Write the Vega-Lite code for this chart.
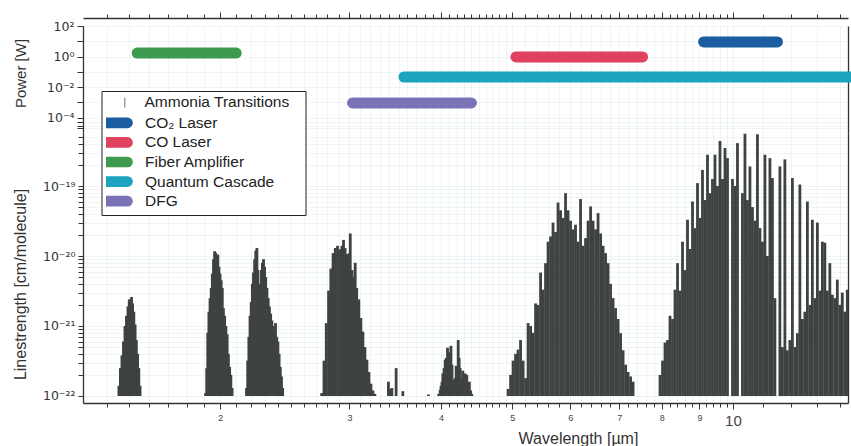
{
  "$schema": "https://vega.github.io/schema/vega-lite/v6.json",
  "padding": {"left": 12, "top": 11, "right": 0, "bottom": 0},
  "bounds": "flush",
  "spacing": 0,
  "config": {
    "view": {"stroke": null},
    "font": "Liberation Sans",
    "axis": {"domainColor": "#333", "domainWidth": 1.3, "tickColor": "#333", "tickWidth": 1, "labelColor": "#333", "titleColor": "#333", "titleFontWeight": "normal", "gridColor": "#b9cddd", "gridOpacity": 0.33, "gridWidth": 0.7}
  },
  "datasets": {
    "lasers": [
      {"series": "CO₂ Laser", "w1": 9.12, "w2": 11.5, "p": 9},
      {"series": "CO Laser", "w1": 5.06, "w2": 7.53, "p": 0.95},
      {"series": "Fiber Amplifier", "w1": 1.541, "w2": 2.103, "p": 1.7},
      {"series": "Quantum Cascade", "w1": 3.56, "w2": 14.6, "p": 0.046},
      {"series": "DFG", "w1": 3.03, "w2": 4.4, "p": 0.00092}
    ],
    "lines": [
      {"w": 1.455, "s": 1.4e-22}, {"w": 1.462, "s": 2.5e-22}, {"w": 1.469, "s": 3.8e-22}, {"w": 1.476, "s": 6e-22}, {"w": 1.483, "s": 1e-21}, {"w": 1.490, "s": 1.4e-21}, {"w": 1.497, "s": 1.9e-21}, {"w": 1.503, "s": 2.4e-21}, {"w": 1.509, "s": 2.2e-21}, {"w": 1.514, "s": 2.6e-21}, {"w": 1.519, "s": 2.1e-21}, {"w": 1.525, "s": 1.6e-21}, {"w": 1.531, "s": 1.05e-21}, {"w": 1.537, "s": 6.3e-22}, {"w": 1.543, "s": 4e-22}, {"w": 1.549, "s": 2.5e-22}, {"w": 1.555, "s": 1.4e-22},
      {"w": 1.910, "s": 1.1e-22}, {"w": 1.917, "s": 2.5e-22}, {"w": 1.923, "s": 8e-22}, {"w": 1.930, "s": 1.6e-21}, {"w": 1.937, "s": 2.5e-21}, {"w": 1.944, "s": 3.5e-21}, {"w": 1.951, "s": 5.6e-21}, {"w": 1.958, "s": 9e-21}, {"w": 1.965, "s": 1.17e-20}, {"w": 1.971, "s": 1.12e-20}, {"w": 1.978, "s": 1e-20}, {"w": 1.985, "s": 1.05e-20}, {"w": 1.992, "s": 7e-21}, {"w": 1.999, "s": 5.6e-21}, {"w": 2.006, "s": 4.5e-21}, {"w": 2.013, "s": 3.5e-21}, {"w": 2.020, "s": 1.8e-21}, {"w": 2.028, "s": 1.4e-21}, {"w": 2.036, "s": 1e-21}, {"w": 2.044, "s": 7.6e-22}, {"w": 2.052, "s": 4e-22}, {"w": 2.060, "s": 2.6e-22}, {"w": 2.068, "s": 2e-22}, {"w": 2.076, "s": 1.3e-22},
      {"w": 2.172, "s": 1.3e-22}, {"w": 2.180, "s": 3.2e-22}, {"w": 2.188, "s": 7e-22}, {"w": 2.196, "s": 1.4e-21}, {"w": 2.204, "s": 2.2e-21}, {"w": 2.212, "s": 4e-21}, {"w": 2.220, "s": 5.8e-21}, {"w": 2.228, "s": 9e-21}, {"w": 2.236, "s": 1.2e-20}, {"w": 2.244, "s": 1.3e-20}, {"w": 2.251, "s": 6.3e-21}, {"w": 2.259, "s": 4e-21}, {"w": 2.267, "s": 4e-21}, {"w": 2.275, "s": 6.3e-21}, {"w": 2.283, "s": 8e-21}, {"w": 2.291, "s": 9e-21}, {"w": 2.299, "s": 7e-21}, {"w": 2.307, "s": 5e-21}, {"w": 2.316, "s": 3.5e-21}, {"w": 2.325, "s": 2.5e-21}, {"w": 2.334, "s": 1.9e-21}, {"w": 2.343, "s": 1.5e-21}, {"w": 2.352, "s": 1.2e-21}, {"w": 2.361, "s": 1e-21}, {"w": 2.370, "s": 8.3e-22}, {"w": 2.379, "s": 1.1e-21}, {"w": 2.388, "s": 7e-22}, {"w": 2.397, "s": 6e-22}, {"w": 2.406, "s": 4e-22}, {"w": 2.415, "s": 2.6e-22}, {"w": 2.424, "s": 1.9e-22}, {"w": 2.433, "s": 1.3e-22},
      {"w": 2.750, "s": 1.1e-22}, {"w": 2.770, "s": 3.2e-22}, {"w": 2.790, "s": 1.1e-21}, {"w": 2.810, "s": 3.2e-21}, {"w": 2.830, "s": 6.6e-21}, {"w": 2.850, "s": 1.1e-20}, {"w": 2.870, "s": 1.3e-20}, {"w": 2.890, "s": 1.4e-20}, {"w": 2.910, "s": 1.25e-20}, {"w": 2.930, "s": 1.4e-20}, {"w": 2.945, "s": 1.7e-20}, {"w": 2.960, "s": 1.3e-20}, {"w": 2.980, "s": 1.07e-20}, {"w": 3.000, "s": 1.1e-20}, {"w": 3.008, "s": 2.1e-20}, {"w": 3.025, "s": 6.3e-21}, {"w": 3.040, "s": 5e-21}, {"w": 3.055, "s": 8e-21}, {"w": 3.070, "s": 3.5e-21}, {"w": 3.090, "s": 2.4e-21}, {"w": 3.110, "s": 1.3e-21}, {"w": 3.130, "s": 8.3e-22}, {"w": 3.150, "s": 5e-22}, {"w": 3.170, "s": 3.3e-22}, {"w": 3.190, "s": 2.2e-22}, {"w": 3.210, "s": 1.5e-22}, {"w": 3.230, "s": 1.2e-22}, {"w": 3.250, "s": 1.07e-22},
      {"w": 3.391, "s": 1.6e-22}, {"w": 3.409, "s": 1.25e-22}, {"w": 3.428, "s": 1.3e-22}, {"w": 3.474, "s": 2.5e-22}, {"w": 3.548, "s": 1.17e-22}, {"w": 3.845, "s": 1.05e-22},
      {"w": 3.970, "s": 1.07e-22}, {"w": 3.989, "s": 1.23e-22}, {"w": 4.000, "s": 1.4e-22}, {"w": 4.012, "s": 1.6e-22}, {"w": 4.023, "s": 2.1e-22}, {"w": 4.038, "s": 2.5e-22}, {"w": 4.052, "s": 3.3e-22}, {"w": 4.066, "s": 3.5e-22}, {"w": 4.082, "s": 4.9e-22}, {"w": 4.095, "s": 3.2e-22}, {"w": 4.108, "s": 4.2e-22}, {"w": 4.126, "s": 5.2e-22}, {"w": 4.140, "s": 2.8e-22}, {"w": 4.152, "s": 1.7e-22}, {"w": 4.166, "s": 1.4e-22}, {"w": 4.181, "s": 1.8e-22}, {"w": 4.194, "s": 2.7e-22}, {"w": 4.208, "s": 2e-22}, {"w": 4.221, "s": 6.3e-22}, {"w": 4.234, "s": 3.5e-22}, {"w": 4.247, "s": 2.5e-22}, {"w": 4.262, "s": 1.8e-22}, {"w": 4.283, "s": 2.3e-22}, {"w": 4.300, "s": 1.4e-22}, {"w": 4.314, "s": 2.1e-22}, {"w": 4.337, "s": 2e-22}, {"w": 4.352, "s": 1.3e-22}, {"w": 4.372, "s": 1.6e-22}, {"w": 4.390, "s": 1.2e-22}, {"w": 4.405, "s": 1.07e-22},
      {"w": 4.937, "s": 1.26e-22}, {"w": 4.976, "s": 2e-22}, {"w": 5.015, "s": 3.2e-22}, {"w": 5.054, "s": 4e-22}, {"w": 5.094, "s": 4.6e-22}, {"w": 5.134, "s": 6.3e-22}, {"w": 5.175, "s": 3.2e-22}, {"w": 5.216, "s": 1.8e-22}, {"w": 5.257, "s": 1.1e-21}, {"w": 5.298, "s": 1e-21}, {"w": 5.340, "s": 8e-22}, {"w": 5.382, "s": 2.1e-21}, {"w": 5.424, "s": 2e-21}, {"w": 5.467, "s": 5.8e-21}, {"w": 5.510, "s": 3.3e-21}, {"w": 5.553, "s": 7.9e-21}, {"w": 5.597, "s": 1.6e-20}, {"w": 5.641, "s": 1.9e-20}, {"w": 5.685, "s": 3e-20}, {"w": 5.730, "s": 2.2e-20}, {"w": 5.775, "s": 5.8e-20}, {"w": 5.821, "s": 4.5e-20}, {"w": 5.867, "s": 3.5e-20}, {"w": 5.913, "s": 7.9e-20}, {"w": 5.959, "s": 4.5e-20}, {"w": 6.006, "s": 3.2e-20}, {"w": 6.054, "s": 2.4e-20}, {"w": 6.101, "s": 2.8e-20}, {"w": 6.149, "s": 1.6e-20}, {"w": 6.198, "s": 6.5e-20}, {"w": 6.247, "s": 1.4e-20}, {"w": 6.296, "s": 1.8e-20}, {"w": 6.346, "s": 3.2e-20}, {"w": 6.396, "s": 5.1e-20}, {"w": 6.446, "s": 3.2e-20}, {"w": 6.497, "s": 2.4e-20}, {"w": 6.548, "s": 4.1e-20}, {"w": 6.600, "s": 2.1e-20}, {"w": 6.652, "s": 1.4e-20}, {"w": 6.704, "s": 1.1e-20}, {"w": 6.757, "s": 7.9e-21}, {"w": 6.810, "s": 4e-21}, {"w": 6.864, "s": 2.5e-21}, {"w": 6.918, "s": 1.8e-21}, {"w": 6.972, "s": 1.26e-21}, {"w": 7.027, "s": 7.9e-22}, {"w": 7.083, "s": 4.5e-22}, {"w": 7.139, "s": 2.8e-22}, {"w": 7.195, "s": 2.2e-22}, {"w": 7.252, "s": 1.9e-22}, {"w": 7.309, "s": 1.6e-22},
      {"w": 7.954, "s": 2e-22}, {"w": 8.017, "s": 3.2e-22}, {"w": 8.080, "s": 5.8e-22}, {"w": 8.143, "s": 6.3e-22}, {"w": 8.207, "s": 1.4e-21}, {"w": 8.272, "s": 1.26e-21}, {"w": 8.337, "s": 3.3e-21}, {"w": 8.403, "s": 7.9e-21}, {"w": 8.469, "s": 3.2e-21}, {"w": 8.536, "s": 1.6e-20}, {"w": 8.603, "s": 6.3e-21}, {"w": 8.671, "s": 3.3e-20}, {"w": 8.739, "s": 1.26e-20}, {"w": 8.808, "s": 6e-20}, {"w": 8.877, "s": 2.5e-20}, {"w": 8.947, "s": 1.1e-19}, {"w": 9.017, "s": 3.5e-20}, {"w": 9.088, "s": 1.7e-19}, {"w": 9.160, "s": 6.3e-20}, {"w": 9.232, "s": 2.8e-19}, {"w": 9.305, "s": 7.9e-20}, {"w": 9.378, "s": 1.26e-19}, {"w": 9.452, "s": 2.8e-19}, {"w": 9.526, "s": 1e-19}, {"w": 9.601, "s": 4.4e-19}, {"w": 9.677, "s": 1.26e-19}, {"w": 9.753, "s": 3.5e-19}, {"w": 9.830, "s": 2.5e-19}, {"w": 9.985, "s": 1.26e-19}, {"w": 10.064, "s": 1e-19}, {"w": 10.143, "s": 4.1e-19}, {"w": 10.303, "s": 7.9e-20}, {"w": 10.384, "s": 5.6e-19}, {"w": 10.466, "s": 6.3e-20}, {"w": 10.548, "s": 1.9e-19}, {"w": 10.631, "s": 5e-20}, {"w": 10.715, "s": 3.2e-20}, {"w": 10.799, "s": 5.5e-19}, {"w": 10.884, "s": 2.5e-20}, {"w": 10.970, "s": 1.6e-20}, {"w": 11.056, "s": 2.8e-19}, {"w": 11.143, "s": 1e-20}, {"w": 11.231, "s": 2.5e-19}, {"w": 11.319, "s": 1.3e-19}, {"w": 11.408, "s": 2.5e-21}, {"w": 11.588, "s": 1.9e-19}, {"w": 11.679, "s": 5e-22}, {"w": 11.771, "s": 2.4e-19}, {"w": 11.864, "s": 4.5e-22}, {"w": 11.957, "s": 6.3e-22}, {"w": 12.051, "s": 1.3e-19}, {"w": 12.146, "s": 5e-22}, {"w": 12.242, "s": 7.9e-22}, {"w": 12.338, "s": 1.05e-19}, {"w": 12.435, "s": 1.26e-21}, {"w": 12.533, "s": 1.6e-21}, {"w": 12.632, "s": 6e-20}, {"w": 12.731, "s": 2e-21}, {"w": 12.831, "s": 3.3e-20}, {"w": 12.932, "s": 2.5e-21}, {"w": 13.034, "s": 3e-20}, {"w": 13.137, "s": 3.2e-21}, {"w": 13.240, "s": 1.6e-20}, {"w": 13.344, "s": 1.55e-20}, {"w": 13.449, "s": 3.2e-21}, {"w": 13.555, "s": 7.9e-21}, {"w": 13.662, "s": 2.8e-21}, {"w": 13.769, "s": 2.5e-21}, {"w": 13.877, "s": 4.6e-21}, {"w": 13.986, "s": 2e-21}, {"w": 14.096, "s": 3e-21}, {"w": 14.207, "s": 1.6e-21}, {"w": 14.319, "s": 3.3e-21}
    ]
  },
  "vconcat": [
    {
      "width": 765,
      "height": 107,
      "data": {"name": "lasers"},
      "layer": [
        {
          "mark": {"type": "rule", "strokeWidth": 11, "strokeCap": "round"},
          "encoding": {
            "x": {"field": "w1", "type": "quantitative", "scale": {"type": "log", "domain": [1.3, 14.35], "nice": false},
              "axis": {"orient": "top", "offset": 8, "labels": false, "title": null, "grid": true, "tickSize": {"condition": {"test": "indexof([2,3,4,5,6,7,8,9,10], datum.value) >= 0", "value": 6}, "value": 4},
                "values": [1.4,1.5,1.6,1.7,1.8,1.9,2,2.1,2.2,2.3,2.4,2.5,2.6,2.7,2.8,2.9,3,3.1,3.2,3.3,3.4,3.5,3.6,3.7,3.8,3.9,4,4.1,4.2,4.3,4.4,4.5,4.6,4.7,4.8,4.9,5,5.2,5.4,5.6,5.8,6,6.2,6.4,6.6,6.8,7,7.2,7.4,7.6,7.8,8,8.2,8.4,8.6,8.8,9,9.2,9.4,9.6,9.8,10,11,12,13,14]}},
            "x2": {"field": "w2"},
            "y": {"field": "p", "type": "quantitative", "scale": {"type": "log", "domain": [1e-5, 100], "nice": false},
              "axis": {"title": "Power [W]", "titleFontSize": 15, "titleX": -63, "titleY": 47, "titleAlign": "center", "titleBaseline": "middle", "titleAngle": -90,
                "values": [100, 10, 1, 0.1, 0.01, 0.001, 0.0001, 0.00005, 0.00003, 0.00002],
                "labelExpr": "datum.value === 100 ? '10²' : datum.value === 1 ? '10⁰' : datum.value === 0.01 ? '10⁻²' : datum.value === 0.0001 ? '10⁻⁴' : ''",
                "labelFont": "DejaVu Sans", "labelFontSize": 12.5, "labelPadding": 3, "tickSize": 6, "grid": true, "labelOverlap": false}},
            "color": {"field": "series", "type": "nominal",
              "scale": {"domain": ["CO₂ Laser", "CO Laser", "Fiber Amplifier", "Quantum Cascade", "DFG"], "range": ["#1a5da0", "#e0415f", "#3d9a4e", "#1ba3bf", "#7a74b6"]},
              "legend": {"title": "\u200b", "titleFontSize": 15.5, "titleFontWeight": "normal", "titleColor": "transparent", "titlePadding": 4, "orient": "none", "legendX": 18.5, "legendY": 65, "zindex": 1, "strokeColor": "#222", "fillColor": "#ffffff", "padding": 4.5, "labelFontSize": 15.5, "labelColor": "#222", "rowPadding": 2.6, "clipHeight": 15.6, "symbolType": "M-2,-0.06L2,-0.06A0.06,0.06 0 0 1 2,0.06L-2,0.06A0.06,0.06 0 0 1 -2,-0.06Z", "symbolSize": 121, "symbolStrokeWidth": 10, "labelOffset": 18, "labelLimit": 300, "symbolOpacity": 1,
                "labelExpr": "datum.label + '\u00a0\u00a0\u00a0\u00a0\u00a0\u00a0\u200b'"}}
          }
        },
        {
          "mark": {"type": "rule", "opacity": 0},
          "encoding": {
            "y": {"field": "p", "type": "quantitative", "scale": {"type": "log", "domain": [1e-5, 100], "nice": false},
              "axis": {"orient": "right", "labels": false, "ticks": false, "title": null, "grid": false}}
          }
        }
      ],
      "resolve": {"axis": {"y": "independent"}}
    },
    {
      "width": 765,
      "height": 270,
      "data": {"name": "lines"},
      "layer": [
        {
          "mark": {"type": "rule", "strokeWidth": 2.8, "clip": true},
          "encoding": {
            "x": {"field": "w", "type": "quantitative", "scale": {"type": "log", "domain": [1.3, 14.35], "nice": false},
              "axis": {"orient": "bottom", "grid": true, "labelOverlap": false, "labelFlush": false,
                "values": [1.4,1.5,1.6,1.7,1.8,1.9,2,2.1,2.2,2.3,2.4,2.5,2.6,2.7,2.8,2.9,3,3.1,3.2,3.3,3.4,3.5,3.6,3.7,3.8,3.9,4,4.1,4.2,4.3,4.4,4.5,4.6,4.7,4.8,4.9,5,5.2,5.4,5.6,5.8,6,6.2,6.4,6.6,6.8,7,7.2,7.4,7.6,7.8,8,8.2,8.4,8.6,8.8,9,9.2,9.4,9.6,9.8,10,11,12,13,14],
                "labelExpr": "indexof([2,3,4,5,6,7,8,9,10], datum.value) >= 0 ? '' + datum.value : ''",
                "labelFontSize": {"condition": {"test": "datum.value === 10", "value": 15}, "value": 9},
                "labelPadding": 4,
                "labelColor": "#444",
                "tickSize": {"condition": {"test": "indexof([2,3,4,5,6,7,8,9,10], datum.value) >= 0", "value": 6}, "value": 4},
                "title": "Wavelength [µm]", "titleFontSize": 16, "titleX": 495, "titleY": 35, "titleAlign": "center", "titleBaseline": "middle"}},
            "y": {"field": "s", "type": "quantitative", "scale": {"type": "log", "domain": [7.94e-23, 5.72e-19], "nice": false},
              "axis": {"title": "Linestrength [cm/molecule]", "titleFontSize": 16, "titleX": -63, "titleY": 151, "titleAlign": "center", "titleBaseline": "middle", "titleAngle": -90,
                "values": [1e-22, 2e-22, 3e-22, 4e-22, 5e-22, 6e-22, 7e-22, 8e-22, 9e-22, 1e-21, 2e-21, 3e-21, 4e-21, 5e-21, 6e-21, 7e-21, 8e-21, 9e-21, 1e-20, 2e-20, 3e-20, 4e-20, 5e-20, 6e-20, 7e-20, 8e-20, 9e-20, 1e-19, 2e-19, 3e-19, 4e-19, 5e-19],
                "labelExpr": "datum.value === 1e-19 ? '10⁻¹⁹' : datum.value === 1e-20 ? '10⁻²⁰' : datum.value === 1e-21 ? '10⁻²¹' : datum.value === 1e-22 ? '10⁻²²' : ''",
                "tickSize": 5,
                "labelFont": "DejaVu Sans", "labelFontSize": 12.5, "labelPadding": 3, "grid": true, "labelOverlap": false}},
            "y2": {"datum": 1e-22},
            "stroke": {"datum": "Ammonia Transitions", "type": "nominal",
              "scale": {"domain": ["Ammonia Transitions"], "range": ["#3e4241"]},
              "legend": {"title": null, "orient": "none", "legendX": 34, "legendY": 68.7, "zindex": 2, "padding": 0, "labelFontSize": 15.5, "labelColor": "#222", "symbolType": "M0,-1L0,1", "symbolSize": 100, "symbolStrokeWidth": 1.5, "symbolOpacity": 0.5, "labelOffset": 12, "labelLimit": 300}}
          }
        },
        {
          "mark": {"type": "rule", "opacity": 0},
          "encoding": {
            "y": {"field": "s", "type": "quantitative", "scale": {"type": "log", "domain": [7.94e-23, 5.72e-19], "nice": false},
              "axis": {"orient": "right", "labels": false, "ticks": false, "title": null, "grid": false}}
          }
        }
      ],
      "resolve": {"axis": {"y": "independent"}}
    }
  ]
}
